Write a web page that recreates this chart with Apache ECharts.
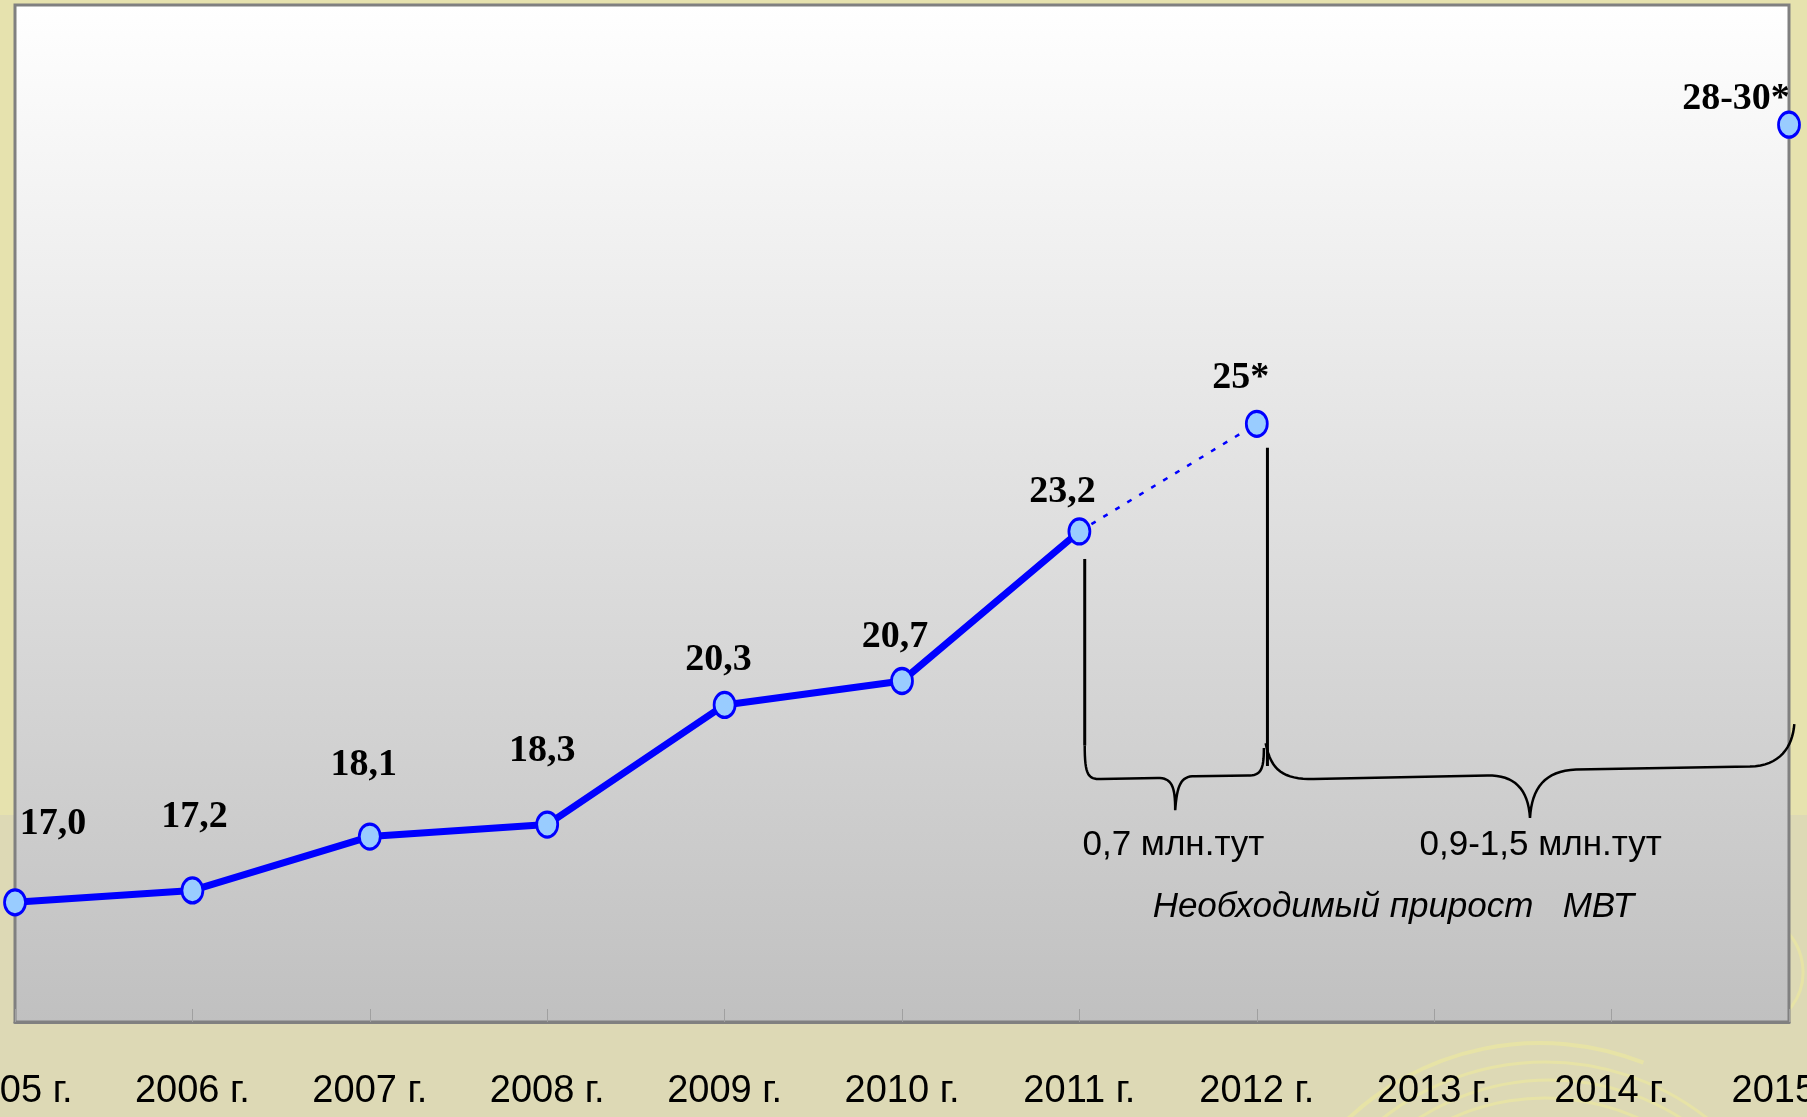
<!DOCTYPE html>
<html>
<head>
<meta charset="utf-8">
<script src="https://cdn.jsdelivr.net/npm/echarts@6/dist/echarts.min.js"></script>
<style>
  html, body { margin: 0; padding: 0; }
  body { background: linear-gradient(to bottom, #e6e2ae 0, #e6e2ae 815px, #ddd9b5 815px, #ddd9b5 100%); }
  #chart { width: 1807px; height: 1117px; }
</style>
</head>
<body>
<div id="chart"></div>
<script>
// годы и значения (млн. тут)
var years = ['2005 г.', '2006 г.', '2007 г.', '2008 г.', '2009 г.', '2010 г.', '2011 г.', '2012 г.', '2013 г.', '2014 г.', '2015 г.'];
var actualValues = [17.0, 17.2, 18.1, 18.3, 20.3, 20.7, 23.2];
var actualLabels = ['17,0', '17,2', '18,1', '18,3', '20,3', '20,7', '23,2'];
var forecastValue = 25;      // 2012 г.
var forecastLabel = '25*';
var targetValue = 30;        // 2015 г., диапазон 28-30
var targetLabel = '28-30*';
var noteLabels = ['0,7 млн.тут', '0,9-1,5 млн.тут', 'Необходимый прирост   МВТ'];

// смещения подписей от точек (оформление)
var labelOffsets = [[38, -78], [2, -73], [-6, -71], [-5, -73], [-6, -45], [-7, -44], [-17, -39]];

var sansFont = '"Liberation Sans Narrow", "Arial Narrow", "Liberation Sans", Arial, sans-serif';

var markerSymbol = 'path://M50,0 A50,50 0 1,1 49.99,0 Z';
var markerStyle = { color: '#99ccff', borderColor: '#0000ff', borderWidth: 3 };

var pointLabel = function (text, offset) {
    return {
        show: true,
        position: 'inside',
        offset: offset,
        formatter: text,
        color: '#000',
        fontFamily: '"Liberation Serif", "Times New Roman", serif',
        fontWeight: 'bold',
        fontSize: 38
    };
};

var actualData = actualValues.map(function (v, i) {
    return { value: [years[i], v], label: pointLabel(actualLabels[i], labelOffsets[i]) };
});

var lastIdx = actualValues.length - 1;
var forecastData = [
    { value: [years[lastIdx], actualValues[lastIdx]], symbol: 'none' },
    { value: [years[lastIdx + 1], forecastValue], label: pointLabel(forecastLabel, [-16, -46]) }
];

var targetData = [
    { value: [years[years.length - 1], targetValue], label: pointLabel(targetLabel, [-53, -25]) }
];

var chart = echarts.init(document.getElementById('chart'));

var options = {
    backgroundColor: 'transparent',
    animation: false,
    grid: {
        left: 15, right: 18, top: 5, bottom: 95,
        containLabel: false,
        outerBoundsMode: 'none',
        show: true,
        borderColor: '#808080',
        borderWidth: 3,
        backgroundColor: {
            type: 'linear', x: 0, y: 0, x2: 0, y2: 1,
            colorStops: [{ offset: 0, color: '#ffffff' }, { offset: 1, color: '#c0c0c0' }]
        }
    },
    xAxis: {
        type: 'category',
        data: years,
        boundaryGap: false,
        axisLine: { lineStyle: { color: '#808080', width: 3 } },
        axisTick: { show: true, inside: true, length: 13, lineStyle: { color: '#a0a0a0', width: 1 } },
        axisLabel: {
            show: true, interval: 0, margin: 51, hideOverlap: false,
            showMinLabel: true, showMaxLabel: true,
            color: '#000', fontSize: 38, fontFamily: sansFont
        },
        splitLine: { show: false }
    },
    yAxis: {
        type: 'value',
        min: 15,
        max: 32,
        show: false,
        splitLine: { show: false }
    },
    series: [
        {
            name: 'факт',
            type: 'line',
            z: 3,
            clip: false,
            data: actualData,
            symbol: markerSymbol,
            symbolSize: [21, 25],
            itemStyle: markerStyle,
            lineStyle: { color: '#0000ff', width: 7 }
        },
        {
            name: 'прогноз',
            type: 'line',
            z: 2,
            clip: false,
            data: forecastData,
            symbol: markerSymbol,
            symbolSize: [21, 25],
            itemStyle: markerStyle,
            lineStyle: { color: '#0000ff', width: 2.5, type: [5, 9] }
        },
        {
            name: 'цель',
            type: 'line',
            z: 3,
            clip: false,
            data: targetData,
            symbol: markerSymbol,
            symbolSize: [21, 25],
            itemStyle: markerStyle,
            lineStyle: { width: 0 }
        }
    ]
};

chart.setOption(options);

// аннотации: скобки и подписи прироста
var x0 = chart.convertToPixel({ gridIndex: 0 }, [0, 20])[0];
var step = chart.convertToPixel({ gridIndex: 0 }, [1, 20])[0] - x0;
var at = function (f, v) {
    return [x0 + f * step, chart.convertToPixel({ gridIndex: 0 }, [0, v])[1]];
};

// кривая Безье -> точки ломаной
var bezier = function (pts, a, b, c, d) {
    for (var k = 1; k <= 16; k++) {
        var t = k / 16, u = 1 - t;
        pts.push([
            u * u * u * a[0] + 3 * u * u * t * b[0] + 3 * u * t * t * c[0] + t * t * t * d[0],
            u * u * u * a[1] + 3 * u * u * t * b[1] + 3 * u * t * t * c[1] + t * t * t * d[1]
        ]);
    }
};

// скобка: [начало, изгиб, полка, острие, полка, изгиб, конец]
var brace = function (s) {
    var pts = [at(s[0][0], s[0][1])];
    var cur = pts[0];
    for (var i = 1; i < s.length; i++) {
        var seg = s[i];
        if (seg.length === 1) {
            cur = at(seg[0][0], seg[0][1]);
            pts.push(cur);
        } else {
            var b = at(seg[0][0], seg[0][1]), c = at(seg[1][0], seg[1][1]), d = at(seg[2][0], seg[2][1]);
            bezier(pts, cur, b, c, d);
            cur = d;
        }
    }
    return pts;
};

var brace1 = brace([
    [6.03, 19.62],
    [[6.03, 19.12], [6.05, 19.06], [6.12, 19.06]],
    [[6.44, 19.08]],
    [[6.52, 19.08], [6.54, 18.95], [6.54, 18.54]],
    [[6.55, 18.95], [6.57, 19.11], [6.65, 19.11]],
    [[6.95, 19.12]],
    [[7.02, 19.12], [7.04, 19.2], [7.04, 19.58]]
]);

var brace2 = brace([
    [7.05, 19.66],
    [[7.08, 19.2], [7.15, 19.06], [7.32, 19.06]],
    [[8.30, 19.12]],
    [[8.45, 19.13], [8.53, 18.9], [8.54, 18.41]],
    [[8.55, 18.9], [8.62, 19.2], [8.80, 19.22]],
    [[9.78, 19.27]],
    [[9.95, 19.28], [10.02, 19.6], [10.03, 19.98]]
]);

var lineA1 = at(6.03, 22.74), lineA2 = at(6.03, 19.62);
var lineB1 = at(7.06, 24.6), lineB2 = at(7.06, 19.28);
var t1 = at(6.53, 17.96), t2 = at(8.60, 17.96), t3 = at(7.77, 16.92);

var noteText = function (p, text, italic) {
    return {
        type: 'text', z: 100,
        x: p[0], y: p[1],
        style: {
            text: text,
            fill: '#000',
            font: (italic ? 'italic ' : '') + '35px ' + sansFont,
            align: 'center', verticalAlign: 'middle'
        }
    };
};

// декоративные завитки фона
var swirl = function (cx, cy, r, a1, a2, w) {
    return {
        type: 'arc', z: -10, silent: true,
        shape: { cx: cx, cy: cy, r: r, startAngle: a1, endAngle: a2 },
        style: { stroke: '#e7e3a6', lineWidth: w, fill: null }
    };
};

chart.setOption({
    graphic: [
        swirl(1540, 1324, 281, Math.PI * 1.25, Math.PI * 1.62, 4),
        swirl(1545, 1324, 262, Math.PI * 1.22, Math.PI * 1.75, 3),
        swirl(1550, 1324, 244, Math.PI * 1.25, Math.PI * 1.72, 3),
        swirl(1545, 1324, 226, Math.PI * 1.2, Math.PI * 1.8, 3),
        swirl(1745, 972, 58, -Math.PI * 0.3, Math.PI * 0.3, 3),
        swirl(1745, 972, 38, -Math.PI * 0.25, Math.PI * 0.25, 3),
        { type: 'line', z: 100, shape: { x1: lineA1[0], y1: lineA1[1], x2: lineA2[0], y2: lineA2[1] }, style: { stroke: '#000', lineWidth: 3 } },
        { type: 'line', z: 100, shape: { x1: lineB1[0], y1: lineB1[1], x2: lineB2[0], y2: lineB2[1] }, style: { stroke: '#000', lineWidth: 3 } },
        { type: 'polyline', z: 100, shape: { points: brace1 }, style: { stroke: '#000', lineWidth: 2.5, fill: null } },
        { type: 'polyline', z: 100, shape: { points: brace2 }, style: { stroke: '#000', lineWidth: 2.5, fill: null } },
        noteText(t1, noteLabels[0], false),
        noteText(t2, noteLabels[1], false),
        noteText(t3, noteLabels[2], true)
    ]
});
</script>
</body>
</html>
